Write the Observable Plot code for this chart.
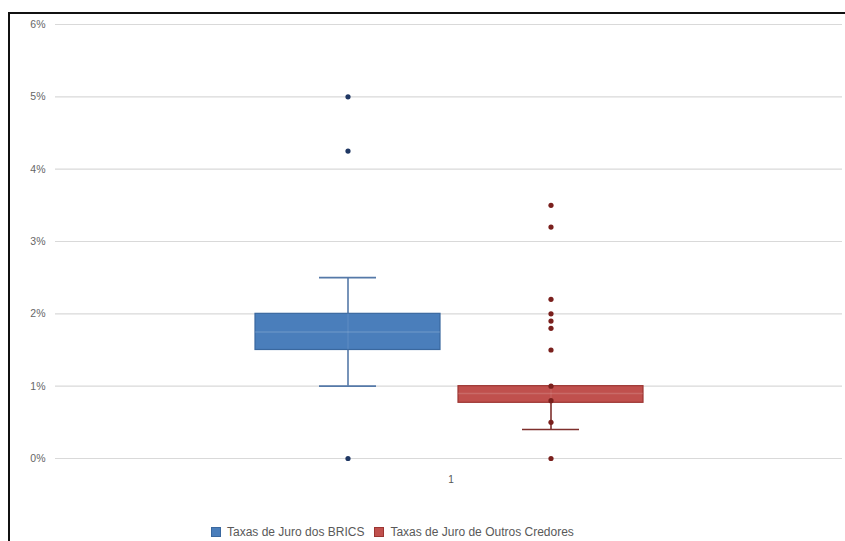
<!DOCTYPE html>
<html>
<head>
<meta charset="utf-8">
<script src="https://cdn.jsdelivr.net/npm/d3@7"></script>
<script src="https://cdn.jsdelivr.net/npm/@observablehq/plot@0.6"></script>
<style>
  html, body { margin: 0; padding: 0; background: #fff; }
  #wrap { position: relative; width: 845px; height: 541px; overflow: hidden; background: #fff; }
  #frame { position: absolute; left: 8px; top: 12px; right: -4px; bottom: -4px;
           border-left: 2.5px solid #111; border-top: 2.5px solid #111; pointer-events: none; }
  #chart { position: absolute; left: 0; top: 0; }
  #legend { position: absolute; left: 211px; top: 525px; font: 12px "Liberation Sans", Arial, sans-serif;
            color: #595959; display: flex; align-items: center; white-space: nowrap; }
  #legend .sw { display: inline-block; width: 10px; height: 10px; margin-right: 6px; box-sizing: border-box; }
  #legend .item { display: flex; align-items: center; margin-right: 10px; }
</style>
</head>
<body>
<div id="wrap">
  <div id="chart"></div>
  <div id="frame"></div>
  <div id="legend"></div>
</div>
<script>
// Series (interest rates, in %)
const seriesNames = ["Taxas de Juro dos BRICS", "Taxas de Juro de Outros Credores"];
const seriesColors = ["#4a7ebb", "#c0504d"];
const seriesStrokes = ["#3a689f", "#9c3532"];
const dotColors = ["#1f3763", "#7a201d"];
const whiskerColors = ["#5579a8", "#7e2f2c"];

// Box summaries, one entry per series
const q1 = [1.5, 0.77];
const median = [1.75, 0.9];
const q3 = [2.0, 1.0];
const whiskerLow = [1.0, 0.4];
const whiskerHigh = [2.5, 1.0];

// Individual points drawn for each series
const bricsPoints = [5.0, 4.25, 0.0];
const otherPoints = [3.5, 3.2, 2.2, 2.0, 1.9, 1.8, 1.5, 1.0, 0.8, 0.5, 0.0];

// Axis
const yTicks = [0, 1, 2, 3, 4, 5, 6];
const categoryLabel = "1";

const boxes = seriesNames.map((s, i) => ({
  series: s, q1: q1[i], median: median[i], q3: q3[i],
  lo: whiskerLow[i], hi: whiskerHigh[i]
}));
const points = [
  ...bricsPoints.map(v => ({series: seriesNames[0], value: v})),
  ...otherPoints.map(v => ({series: seriesNames[1], value: v}))
];
const colorOf = d => seriesColors[seriesNames.indexOf(d.series)];
const strokeOf = d => seriesStrokes[seriesNames.indexOf(d.series)];
const dotOf = d => dotColors[seriesNames.indexOf(d.series)];
const whiskerOf = d => whiskerColors[seriesNames.indexOf(d.series)];

const chart = Plot.plot({
  width: 845,
  height: 500,
  marginTop: 24,
  marginBottom: 42,
  marginLeft: 55,
  marginRight: 3,
  style: {fontFamily: "'Liberation Sans', Arial, sans-serif", fontSize: "10px", color: "#595959", background: "transparent"},
  x: {type: "band", domain: seriesNames, paddingInner: 0.09, paddingOuter: 0.983, axis: null},
  y: {domain: [0, 6], axis: null},
  marks: [
    // plot-area outline and gridlines
    Plot.ruleX([0], {frameAnchor: "left", stroke: "#e3e3e3", strokeWidth: 1.5}),
    Plot.ruleX([0], {frameAnchor: "right", stroke: "#ececec", strokeWidth: 1.5}),
    Plot.gridY(yTicks, {stroke: "#d9d9d9", strokeOpacity: 1, strokeWidth: 1.2}),
    Plot.axisY(yTicks, {tickSize: 0, tickPadding: 10, tickFormat: d => d + "%", fill: "#666", fontSize: 10.5}),
    Plot.text([categoryLabel], {frameAnchor: "bottom", dy: 24, dx: 2, text: d => d, fill: "#555", fontSize: 10}),
    // whiskers
    Plot.ruleX(boxes, {x: "series", y1: "lo", y2: "hi", stroke: whiskerOf, strokeWidth: 1.6}),
    Plot.tickY(boxes, {x: "series", y: "lo", stroke: whiskerOf, strokeWidth: 1.6, insetLeft: 64, insetRight: 64}),
    Plot.tickY(boxes.filter(d => d.hi > d.q3), {x: "series", y: "hi", stroke: whiskerOf, strokeWidth: 1.6, insetLeft: 64, insetRight: 64}),
    // boxes
    Plot.barY(boxes, {x: "series", y1: "q1", y2: "q3", fill: colorOf, stroke: strokeOf, strokeWidth: 1.2}),
    Plot.tickY(boxes, {x: "series", y: "median", stroke: "#ffffff", strokeOpacity: 0.15, strokeWidth: 1.5}),
    Plot.ruleX(boxes, {x: "series", y1: "q1", y2: "q3", stroke: "#ffffff", strokeOpacity: 0.1, strokeWidth: 1.2}),
    // points
    Plot.dot(points, {x: "series", y: "value", r: 2.6, fill: dotOf, stroke: "none"})
  ]
});
document.getElementById("chart").appendChild(chart);

// legend below the plot
const legend = document.getElementById("legend");
seriesNames.forEach((name, i) => {
  const item = document.createElement("span");
  item.className = "item";
  const sw = document.createElement("span");
  sw.className = "sw";
  sw.style.background = seriesColors[i];
  sw.style.border = "1px solid " + seriesStrokes[i];
  item.appendChild(sw);
  item.appendChild(document.createTextNode(name));
  legend.appendChild(item);
});
</script>
</body>
</html>
